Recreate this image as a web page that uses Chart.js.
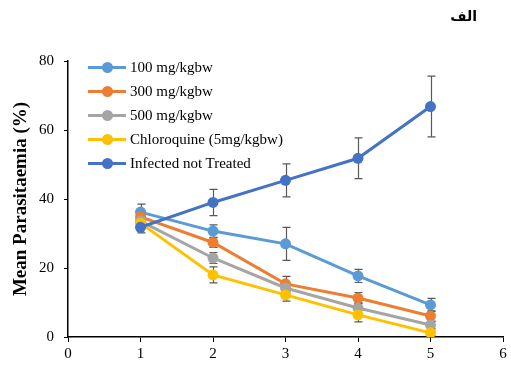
<!DOCTYPE html>
<html><head><meta charset="utf-8">
<script src="https://cdn.jsdelivr.net/npm/chart.js@4/dist/chart.umd.min.js"></script>
<style>
html,body{margin:0;padding:0;background:#fff;}
#wrap{position:relative;width:511px;height:367px;}
#title{position:absolute;right:34px;top:8px;text-align:right;font:bold 14px "DejaVu Sans",sans-serif;direction:rtl;}
#legend{position:absolute;left:88px;top:55px;font:15px "Liberation Serif",serif;color:#000;}
.li{height:24px;display:flex;align-items:center;}
.sw{position:relative;width:38px;height:3px;margin-right:4px;}
.sw i{position:absolute;left:14px;top:-4px;width:11px;height:11px;border-radius:50%;}
</style></head>
<body><div id="wrap"><canvas id="c" width="511" height="367"></canvas>
<div id="title">الف</div>
<div id="legend"></div></div>
<script>
const days = [1, 2, 3, 4, 5];
const seriesNames = ["100 mg/kgbw", "300 mg/kgbw", "500 mg/kgbw", "Chloroquine (5mg/kgbw)", "Infected not Treated"];
const colors = ["#5B9BD5", "#ED7D31", "#A5A5A5", "#FFC000", "#4472C4"];
const v100 = [36.2, 30.7, 27.0, 17.7, 9.3];
const v300 = [34.8, 27.4, 15.4, 11.3, 6.1];
const v500 = [33.6, 22.9, 14.2, 8.4, 3.5];
const vChloro = [33.0, 18.0, 12.2, 6.4, 1.2];
const vInfected = [31.8, 39.0, 45.4, 51.8, 66.8];
const e100 = [2.3, 1.8, 4.8, 1.9, 1.9];
const e300 = [1.8, 1.4, 2.2, 1.6, 1.5];
const e500 = [1.5, 1.6, 1.5, 1.5, 1.0];
const eChloro = [1.5, 2.3, 1.8, 2.0, 0.8];
const eInfected = [1.6, 3.8, 4.8, 5.9, 8.8];
const xTicks = [0, 1, 2, 3, 4, 5, 6];
const yTicks = [0, 20, 40, 60, 80];

const values = [v100, v300, v500, vChloro, vInfected];
const errors = [e100, e300, e500, eChloro, eInfected];

const datasets = values.map((vals, i) => ({
  label: seriesNames[i],
  data: days.map((d, j) => ({x: d, y: vals[j]})),
  errors: errors[i],
  borderColor: colors[i],
  backgroundColor: colors[i],
  borderWidth: 3,
  pointRadius: 5.5,
  pointBorderWidth: 0,
  showLine: true,
  order: 5 - i
}));

const leg = document.getElementById('legend');
seriesNames.forEach((n, i) => {
  const d = document.createElement('div'); d.className = 'li';
  d.innerHTML = '<span class="sw" style="background:' + colors[i] + '"><i style="background:' + colors[i] + '"></i></span><span>' + n + '</span>';
  leg.appendChild(d);
});

const errPlugin = {
  id: 'errbars',
  beforeDatasetsDraw(chart) {
    const ctx = chart.ctx, xs = chart.scales.x, ys = chart.scales.y;
    ctx.save();
    ctx.strokeStyle = '#595959';
    ctx.lineWidth = 1.2;
    chart.data.datasets.forEach(ds => {
      ds.data.forEach((p, j) => {
        const e = ds.errors[j];
        const px = Math.round(xs.getPixelForValue(p.x)) + 0.5;
        const top = ys.getPixelForValue(p.y + e), bot = ys.getPixelForValue(p.y - e);
        ctx.beginPath();
        ctx.moveTo(px, top); ctx.lineTo(px, bot);
        ctx.moveTo(px - 4, top); ctx.lineTo(px + 4, top);
        ctx.moveTo(px - 4, bot); ctx.lineTo(px + 4, bot);
        ctx.stroke();
      });
    });
    ctx.restore();
  }
};

const tickFont = {family: '"Liberation Serif", serif', size: 15};
new Chart(document.getElementById('c'), {
  type: 'scatter',
  data: {datasets},
  plugins: [errPlugin],
  options: {
    responsive: false,
    animation: false,
    layout: {padding: {top: 61, right: 8, left: 0, bottom: 0}},
    plugins: {legend: {display: false}, tooltip: {enabled: false}},
    scales: {
      x: {
        type: 'linear', min: 0, max: 6,
        afterBuildTicks: s => { s.ticks = xTicks.map(v => ({value: v})); },
        afterFit: s => { s.height = 30; },
        ticks: {font: tickFont, color: '#000', padding: 3},
        grid: {display: true, drawOnChartArea: false, drawTicks: true, tickLength: 5, color: '#000'},
        border: {display: true, color: '#000', width: 1.5}
      },
      y: {
        type: 'linear', min: 0, max: 80,
        afterBuildTicks: s => { s.ticks = yTicks.map(v => ({value: v})); },
        afterFit: s => { s.width = 68; },
        ticks: {font: tickFont, color: '#000', padding: 10},
        grid: {display: true, drawOnChartArea: false, drawTicks: true, tickLength: 4, color: '#000'},
        border: {display: true, color: '#000', width: 1.5},
        title: {display: true, text: 'Mean Parasitaemia (%)', font: {family: '"Liberation Serif", serif', size: 19, weight: 'bold'}, color: '#000', padding: {top: 10, bottom: 0}}
      }
    }
  }
});
</script></body></html>
